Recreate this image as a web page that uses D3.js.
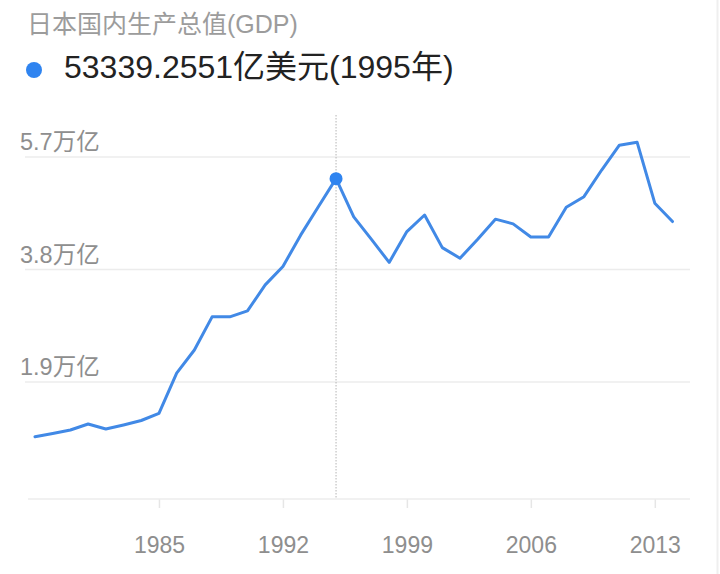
<!DOCTYPE html>
<html>
<head>
<meta charset="utf-8">
<script src="https://cdn.jsdelivr.net/npm/d3@7"></script>
<style>
  html, body { margin: 0; padding: 0; background: #fff; }
  svg { display: block; font-family: "Liberation Sans", "Noto Sans CJK SC", Arial, sans-serif; }
</style>
</head>
<body>
<svg width="720" height="574"></svg>
<script>
// years and GDP (亿美元)
const years = [1978, 1979, 1980, 1981, 1982, 1983, 1984, 1985, 1986, 1987,
               1988, 1989, 1990, 1991, 1992, 1993, 1994, 1995, 1996, 1997,
               1998, 1999, 2000, 2001, 2002, 2003, 2004, 2005, 2006, 2007,
               2008, 2009, 2010, 2011, 2012, 2013, 2014];
const gdp = [9760, 10300, 10900, 11900, 11060, 11750, 12500, 13700, 20500, 24400,
             30000, 30000, 31000, 35400, 38500, 43800, 48600, 53339.2551, 46900, 43100,
             39200, 44400, 47200, 41700, 39900, 43100, 46500, 45700, 43500, 43500,
             48500, 50300, 54800, 59000, 59500, 49200, 46100];
const yTicks = [19000, 38000, 57000];
const yTickLabels = ["1.9万亿", "3.8万亿", "5.7万亿"];
const xTicks = [1985, 1992, 1999, 2006, 2013];
const selYear = 1995;

const svg = d3.select("svg");
const data = years.map((yr, i) => ({year: yr, value: gdp[i]}));

// scales
const x = d3.scaleLinear().domain([1978, 2014]).range([35, 672.5]);
const y = d3.scaleLinear().domain([0, 57000]).range([494.5, 157]);
const bottom = 499;

// faint right edge
svg.append("line")
  .attr("x1", 717.5).attr("x2", 717.5).attr("y1", 0).attr("y2", 574)
  .attr("stroke", "#efefef").attr("stroke-width", 2);

// title + legend
svg.append("text")
  .attr("x", 27).attr("y", 33)
  .attr("font-size", 25).attr("fill", "#9c9c9c")
  .text("日本国内生产总值(GDP)");

const sel = data.find(d => d.year === selYear);
svg.append("circle")
  .attr("cx", 34).attr("cy", 70).attr("r", 8)
  .attr("fill", "#2f84f0");
svg.append("text")
  .attr("x", 64).attr("y", 78)
  .attr("font-size", 32).attr("fill", "#222")
  .text(`${sel.value.toFixed(4)}亿美元(${sel.year}年)`);

// grid lines
svg.append("g").selectAll("line")
  .data(yTicks)
  .join("line")
  .attr("x1", 25).attr("x2", 690)
  .attr("y1", d => y(d)).attr("y2", d => y(d))
  .attr("stroke", "#ececec").attr("stroke-width", 1.5);

svg.append("g").selectAll("text")
  .data(yTicks)
  .join("text")
  .attr("x", 20).attr("y", d => y(d) - 7)
  .attr("font-size", 23.5).attr("fill", "#8e8e8e")
  .text((d, i) => yTickLabels[i]);

// x axis
const xAxis = svg.append("g")
  .attr("transform", `translate(0,${bottom})`)
  .call(d3.axisBottom(x).tickValues(xTicks).tickFormat(d3.format("d")).tickSize(9).tickPadding(28.5));
xAxis.select(".domain").remove();
xAxis.selectAll(".tick line").attr("stroke", "#e6e6e6").attr("stroke-width", 1.5);
xAxis.selectAll(".tick text")
  .attr("font-size", 23).attr("fill", "#8e8e8e")
  .attr("font-family", "'Liberation Sans', Arial, sans-serif");
svg.append("line")
  .attr("x1", 28).attr("x2", 690).attr("y1", bottom).attr("y2", bottom)
  .attr("stroke", "#ececec").attr("stroke-width", 1.5);

// selection guide
svg.append("line")
  .attr("x1", x(selYear)).attr("x2", x(selYear))
  .attr("y1", 115).attr("y2", bottom)
  .attr("stroke", "#b5b5b5").attr("stroke-width", 1)
  .attr("stroke-dasharray", "1.5,1.5");

// line
const line = d3.line().x(d => x(d.year)).y(d => y(d.value));
svg.append("path")
  .datum(data)
  .attr("d", line)
  .attr("fill", "none")
  .attr("stroke", "#4189e6")
  .attr("stroke-width", 3)
  .attr("stroke-linejoin", "round")
  .attr("stroke-linecap", "round");

svg.append("circle")
  .attr("cx", x(sel.year)).attr("cy", y(sel.value)).attr("r", 6.5)
  .attr("fill", "#2f84f0");
</script>
</body>
</html>
